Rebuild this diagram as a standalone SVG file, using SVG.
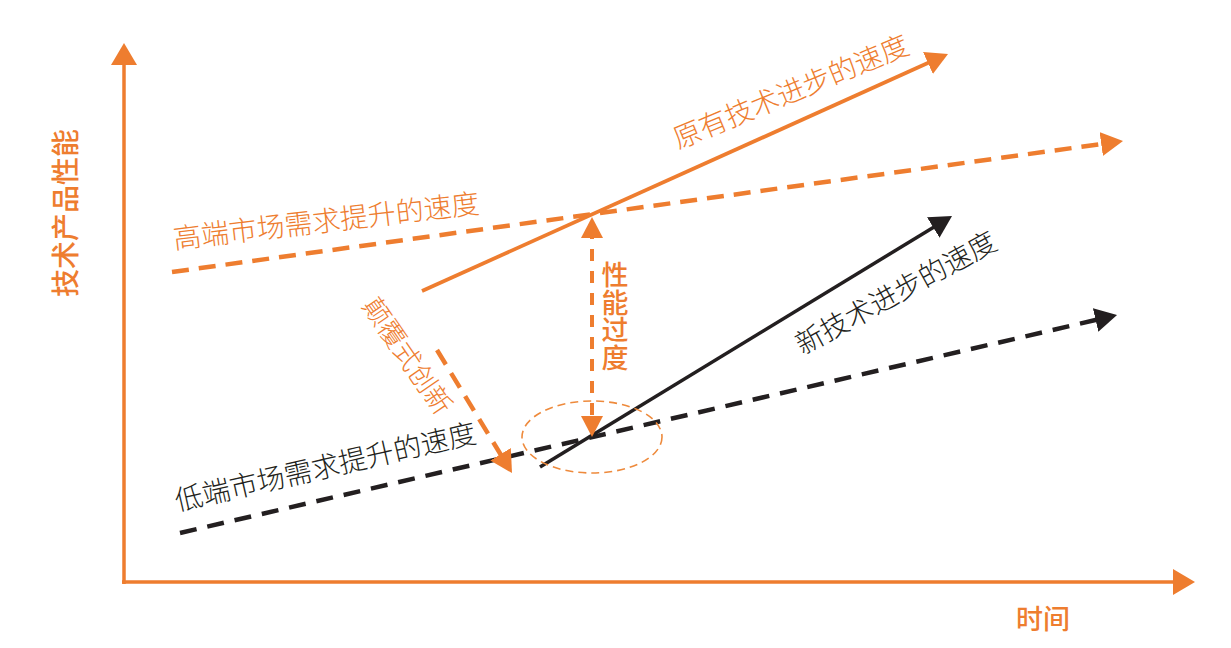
<svg xmlns="http://www.w3.org/2000/svg" width="1231" height="648" viewBox="0 0 1231 648">
  <style>
    .t { font-family: "Noto Sans CJK SC", "Noto Sans", sans-serif; dominant-baseline: central; text-anchor: middle; }
    .o { fill: #EE7D2F; }
    .k { fill: #231F20; }
    .light { font-weight: 300; }
    .med { font-weight: 500; }
    .vert { writing-mode: vertical-rl; text-orientation: upright; letter-spacing: 0.7px; }
    .axis { stroke: #EE7D2F; stroke-width: 3.5; fill: none; }
    .os { stroke: #EE7D2F; stroke-width: 3.8; fill: none; }
    .od { stroke: #EE7D2F; stroke-width: 4.5; fill: none; stroke-dasharray: 17 10; }
    .ks { stroke: #231F20; stroke-width: 3.5; fill: none; }
    .kd { stroke: #231F20; stroke-width: 4.5; fill: none; stroke-dasharray: 17 11; }
    .vd { stroke: #EE7D2F; stroke-width: 4; fill: none; stroke-dasharray: 12 10; }
  </style>
  <defs>
    <marker id="axo" viewBox="0 0 22 26" markerWidth="22" markerHeight="26" refX="12" refY="13" orient="auto" markerUnits="userSpaceOnUse">
      <path d="M0,0 L22,13 L0,26 Z" fill="#EE7D2F"/>
    </marker>
    <marker id="ao" viewBox="0 0 22 24" markerWidth="22" markerHeight="24" refX="12" refY="12" orient="auto" markerUnits="userSpaceOnUse">
      <path d="M0,0 L22,12 L0,24 Z" fill="#EE7D2F"/>
    </marker>
    <marker id="ak" viewBox="0 0 22 24" markerWidth="22" markerHeight="24" refX="12" refY="12" orient="auto" markerUnits="userSpaceOnUse">
      <path d="M0,0 L22,12 L0,24 Z" fill="#231F20"/>
    </marker>
    <marker id="av" viewBox="0 0 21 22" markerWidth="21" markerHeight="22" refX="11" refY="11" orient="auto-start-reverse" markerUnits="userSpaceOnUse">
      <path d="M0,0 L21,11 L0,22 Z" fill="#EE7D2F"/>
    </marker>
  </defs>
  <rect width="1231" height="648" fill="#FFFFFF"/>

  <g id="connectors">
    <path id="y-axis" class="axis" d="M124,584 L124,53" marker-end="url(#axo)"/>
    <path id="x-axis" class="axis" d="M122,582 L1185,582" marker-end="url(#axo)"/>
    <path id="original-tech" class="os" d="M422,291 L938.9,58.1" marker-end="url(#ao)"/>
    <path id="high-demand" class="od" d="M172,272 L1113.1,142.4" marker-end="url(#ao)"/>
    <path id="low-demand" class="kd" d="M180,533 L1107.3,317.3" marker-end="url(#ak)"/>
    <path id="new-tech" class="ks" d="M540,467 L943.5,221.2" marker-end="url(#ak)"/>
    <path id="overshoot" class="vd" d="M592,227 L592,427" marker-start="url(#av)" marker-end="url(#av)"/>
    <path id="disruption" class="od" d="M437,350 L506.8,464.5" marker-end="url(#ao)"/>
    <ellipse id="focus" cx="592" cy="437" rx="70" ry="36" fill="none" stroke="#EE8A3C" stroke-width="1.6" stroke-dasharray="8 5"/>
  </g>

  <g id="label-y-axis">
    <text class="t o med" font-size="28" transform="translate(64,213) rotate(-90)">技术产品性能</text>
  </g>
  <g id="label-x-axis">
    <text class="t o med" font-size="27" x="1043" y="617.5">时间</text>
  </g>
  <g id="label-original-tech">
    <text class="t o light" font-size="28" transform="translate(790,90) rotate(-22.5)">原有技术进步的速度</text>
  </g>
  <g id="label-high-demand">
    <text class="t o light" font-size="28" transform="translate(326,219) rotate(-6.7)">高端市场需求提升的速度</text>
  </g>
  <g id="label-low-demand">
    <text class="t k light" font-size="28" transform="translate(325,465) rotate(-12.9)">低端市场需求提升的速度</text>
  </g>
  <g id="label-new-tech">
    <text class="t k light" font-size="28" transform="translate(895,291) rotate(-28.7)">新技术进步的速度</text>
  </g>
  <g id="label-disruption">
    <text class="t o light" font-size="27" transform="translate(409,355) rotate(55.4)">颠覆式创新</text>
  </g>
  <g id="label-overshoot">
    <text class="t o med vert" font-size="27" x="615" y="316.5">性能过度</text>
  </g>
</svg>
